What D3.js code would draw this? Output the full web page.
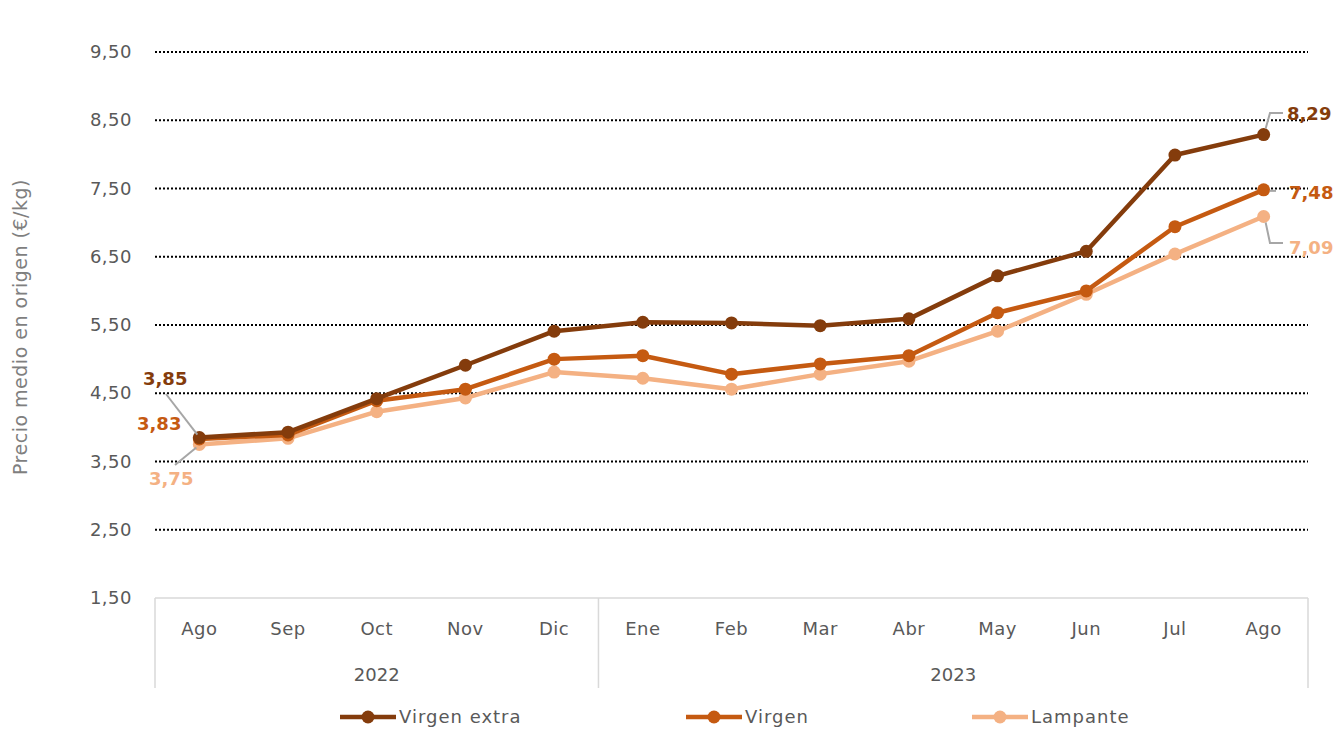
<!DOCTYPE html>
<html>
<head>
<meta charset="utf-8">
<script src="https://cdn.jsdelivr.net/npm/d3@7"></script>
<style>
  body { margin: 0; background: #fff; }
  text { font-family: "DejaVu Sans", "Noto Sans", sans-serif; }
</style>
</head>
<body>
<svg id="chart" width="1336" height="729"></svg>
<script>
'use strict';

let months = ['Ago', 'Sep', 'Oct', 'Nov', 'Dic', 'Ene', 'Feb', 'Mar', 'Abr', 'May', 'Jun', 'Jul', 'Ago'];
let years = [{ label: '2022', from: 0, to: 4 }, { label: '2023', from: 5, to: 12 }];
let virgenExtra = [3.85, 3.93, 4.42, 4.91, 5.41, 5.54, 5.53, 5.49, 5.59, 6.22, 6.58, 7.99, 8.29];
let virgen = [3.83, 3.89, 4.39, 4.56, 5.00, 5.05, 4.78, 4.93, 5.05, 5.68, 6.00, 6.94, 7.48];
let lampante = [3.75, 3.84, 4.23, 4.43, 4.81, 4.72, 4.56, 4.78, 4.97, 5.41, 5.95, 6.54, 7.09];
let yTicks = [1.5, 2.5, 3.5, 4.5, 5.5, 6.5, 7.5, 8.5, 9.5];

let series = [
    { name: 'Virgen extra', values: virgenExtra, color: '#843c0c' },
    { name: 'Virgen', values: virgen, color: '#c55a11' },
    { name: 'Lampante', values: lampante, color: '#f4b183' }
];

let svg = d3.select('#chart');
let plotLeft = 155, plotRight = 1308, plotTop = 52, plotBottom = 598;
let fmt = v => v.toFixed(2).replace('.', ',');
let grey = '#595959';

let x = d3.scaleBand().domain(d3.range(months.length)).range([plotLeft, plotRight]);
let y = d3.scaleLinear().domain([1.5, 9.5]).range([plotBottom, plotTop]);
let cx = i => x(i) + x.bandwidth() / 2;

// gridlines (dotted)
svg.append('g').selectAll('line')
    .data(yTicks.slice(1))
    .join('line')
    .attr('x1', plotLeft).attr('x2', plotRight)
    .attr('y1', d => y(d)).attr('y2', d => y(d))
    .attr('stroke', '#000')
    .attr('stroke-width', 2)
    .attr('stroke-dasharray', '2,2');

// y tick labels
svg.append('g').selectAll('text')
    .data(yTicks)
    .join('text')
    .attr('x', 132)
    .attr('y', d => y(d) + 6)
    .attr('text-anchor', 'end')
    .attr('fill', grey)
    .style('font-size', '18px')
    .style('letter-spacing', '0.5px')
    .text(fmt);

svg.append('text')
    .attr('transform', 'translate(27,' + 327 + ') rotate(-90)')
    .attr('text-anchor', 'middle')
    .attr('fill', '#7f7f7f')
    .style('font-size', '19px')
    .style('letter-spacing', '0.5px')
    .text('Precio medio en origen (€/kg)');

// category axis box
let axisG = svg.append('g').attr('stroke', '#d9d9d9').attr('stroke-width', 1.5);
axisG.append('line').attr('x1', plotLeft).attr('x2', plotRight).attr('y1', plotBottom).attr('y2', plotBottom);
[plotLeft, x(5), plotRight].forEach(xx => {
    axisG.append('line').attr('x1', xx).attr('x2', xx).attr('y1', plotBottom).attr('y2', 688);
});

svg.append('g').selectAll('text')
    .data(months)
    .join('text')
    .attr('x', (d, i) => cx(i))
    .attr('y', 635)
    .attr('text-anchor', 'middle')
    .attr('fill', grey)
    .style('font-size', '18px')
    .style('letter-spacing', '0.5px')
    .text(d => d);

svg.append('g').selectAll('text')
    .data(years)
    .join('text')
    .attr('x', d => (x(d.from) + x(d.to) + x.bandwidth()) / 2)
    .attr('y', 681)
    .attr('text-anchor', 'middle')
    .attr('fill', grey)
    .style('font-size', '18px')
    .text(d => d.label);

// lines + markers (lightest drawn first)
let line = d3.line().x((d, i) => cx(i)).y(d => y(d));
series.slice().reverse().forEach(s => {
    let g = svg.append('g');
    g.append('path')
        .attr('d', line(s.values))
        .attr('fill', 'none')
        .attr('stroke', s.color)
        .attr('stroke-width', 4.5)
        .attr('stroke-linejoin', 'round');
    g.selectAll('circle')
        .data(s.values)
        .join('circle')
        .attr('cx', (d, i) => cx(i))
        .attr('cy', d => y(d))
        .attr('r', 6.5)
        .attr('fill', s.color);
});

// data labels with leader lines
let last = months.length - 1;
let leader = svg.append('g')
    .attr('fill', 'none')
    .attr('stroke', '#a6a6a6')
    .attr('stroke-width', 2);
leader.append('path').attr('d', d3.line()([[166, 394], [cx(0) - 2, y(virgenExtra[0]) - 3]]));
leader.append('path').attr('d', d3.line()([[175, 465], [cx(0) - 3, y(lampante[0]) + 3]]));
leader.append('path').attr('d', d3.line()([[cx(last) + 2, y(virgenExtra[last]) - 6], [1270, 113], [1283, 113]]));
leader.append('path').attr('d', d3.line()([[cx(last) + 6, y(virgen[last]) + 1], [1276, y(virgen[last]) + 1]]));
leader.append('path').attr('d', d3.line()([[cx(last) + 2, y(lampante[last]) + 6], [1270, 243], [1283, 243]]));

let labels = [
    { v: virgenExtra[0], x: 143, y: 385, color: series[0].color },
    { v: virgen[0], x: 137, y: 430, color: series[1].color },
    { v: lampante[0], x: 149, y: 485, color: series[2].color },
    { v: virgenExtra[last], x: 1287, y: 120, color: series[0].color },
    { v: virgen[last], x: 1289, y: 199, color: series[1].color },
    { v: lampante[last], x: 1289, y: 254, color: series[2].color }
];
svg.append('g').selectAll('text')
    .data(labels)
    .join('text')
    .attr('x', d => d.x)
    .attr('y', d => d.y)
    .attr('fill', d => d.color)
    .style('font-size', '18px')
    .style('font-weight', 'bold')
    .text(d => fmt(d.v));

// legend
let legendX = [340, 686, 972];
let legend = svg.append('g').selectAll('g')
    .data(series)
    .join('g')
    .attr('transform', (d, i) => 'translate(' + legendX[i] + ',717)');
legend.append('line')
    .attr('x1', 0).attr('x2', 56)
    .attr('stroke', d => d.color)
    .attr('stroke-width', 4.5);
legend.append('circle')
    .attr('cx', 28).attr('r', 6.5)
    .attr('fill', d => d.color);
legend.append('text')
    .attr('x', 59).attr('y', 6)
    .attr('fill', grey)
    .style('font-size', '18px')
    .style('letter-spacing', '1px')
    .text(d => d.name);
</script>
</body>
</html>
